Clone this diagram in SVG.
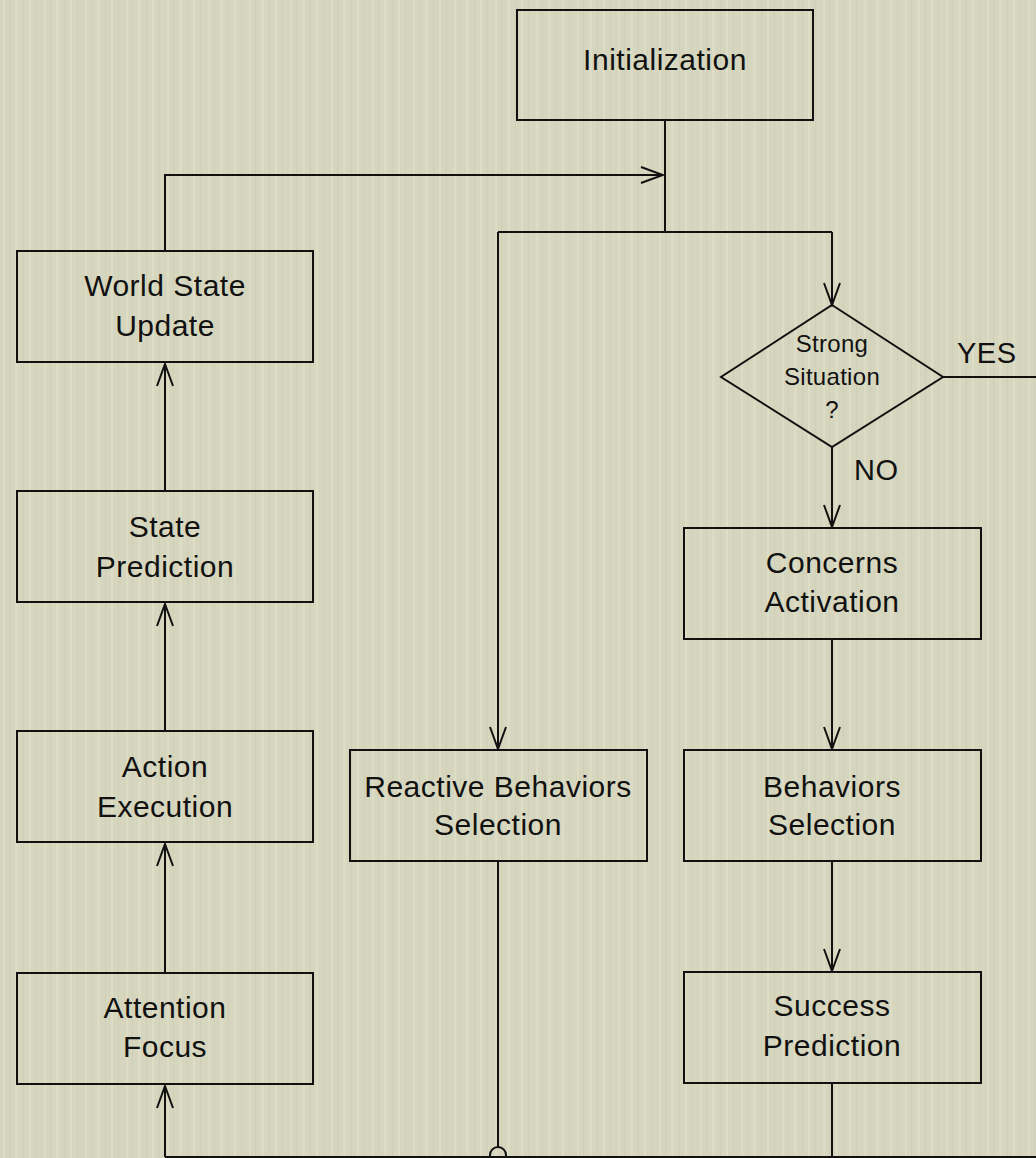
<svg xmlns="http://www.w3.org/2000/svg" width="1036" height="1158" viewBox="0 0 1036 1158">
<style>
.box{fill:none;stroke:#111;stroke-width:2}
.t{font-family:"Liberation Sans",Arial,sans-serif;font-size:30px;letter-spacing:0.5px;fill:#111;text-anchor:middle}
.ts{font-family:"Liberation Sans",Arial,sans-serif;font-size:24px;letter-spacing:0.3px;fill:#111;text-anchor:middle}
.lbl{font-family:"Liberation Sans",Arial,sans-serif;font-size:29px;letter-spacing:0.5px;fill:#111}
.c{fill:none;stroke:#111;stroke-width:2}
</style>
<defs>
<pattern id="tex" width="41" height="1158" patternUnits="userSpaceOnUse">
<rect width="41" height="1158" fill="#d6d6be"/>
<rect x="3" width="2" height="1158" fill="#e0e0c8" opacity="0.7"/>
<rect x="9" width="1" height="1158" fill="#c8c9b0" opacity="0.6"/>
<rect x="15" width="3" height="1158" fill="#dedfc7" opacity="0.6"/>
<rect x="23" width="1" height="1158" fill="#c6c7ae" opacity="0.5"/>
<rect x="29" width="2" height="1158" fill="#e2e2cb" opacity="0.6"/>
<rect x="36" width="1" height="1158" fill="#cacbb2" opacity="0.6"/>
</pattern>
<marker id="arr" viewBox="-25 -10 27 20" markerWidth="27" markerHeight="20" refX="0" refY="0" markerUnits="userSpaceOnUse" orient="auto">
<path d="M-22,-8 L0,0 L-22,8" fill="none" stroke="#111" stroke-width="2"/>
</marker>
</defs>
<rect width="1036" height="1158" fill="url(#tex)"/>

<g id="connectors">
<path class="c" d="M665,120 V232"/>
<path class="c" d="M165,251 V175 H663" marker-end="url(#arr)"/>
<path class="c" d="M498,232 H832"/>
<path class="c" d="M498,232 V749" marker-end="url(#arr)"/>
<path class="c" d="M832,232 V305" marker-end="url(#arr)"/>
<path class="c" d="M832,447 V527" marker-end="url(#arr)"/>
<path class="c" d="M943,377 H1036"/>
<path class="c" d="M832,639 V749" marker-end="url(#arr)"/>
<path class="c" d="M832,861 V971" marker-end="url(#arr)"/>
<path class="c" d="M832,1083 V1158"/>
<path class="c" d="M498,861 V1147"/>
<circle class="c" cx="498" cy="1155" r="8"/>
<path class="c" d="M1036,1157 H165"/>
<path class="c" d="M165,1157 V1086" marker-end="url(#arr)"/>
<path class="c" d="M165,973 V844" marker-end="url(#arr)"/>
<path class="c" d="M165,731 V604" marker-end="url(#arr)"/>
<path class="c" d="M165,491 V364" marker-end="url(#arr)"/>
<text class="lbl" x="957" y="363">YES</text>
<text class="lbl" x="854" y="480">NO</text>
</g>

<g id="initialization">
<rect class="box" x="517" y="10" width="296" height="110"/>
<text class="t" x="665" y="70">Initialization</text>
</g>
<g id="world-state-update">
<rect class="box" x="17" y="251" width="296" height="111"/>
<text class="t" x="165" y="296">World State</text>
<text class="t" x="165" y="336">Update</text>
</g>
<g id="state-prediction">
<rect class="box" x="17" y="491" width="296" height="111"/>
<text class="t" x="165" y="537">State</text>
<text class="t" x="165" y="577">Prediction</text>
</g>
<g id="action-execution">
<rect class="box" x="17" y="731" width="296" height="111"/>
<text class="t" x="165" y="777">Action</text>
<text class="t" x="165" y="817">Execution</text>
</g>
<g id="attention-focus">
<rect class="box" x="17" y="973" width="296" height="111"/>
<text class="t" x="165" y="1018">Attention</text>
<text class="t" x="165" y="1057">Focus</text>
</g>
<g id="strong-situation">
<polygon class="box" points="832,305 943,377 832,447 721,377"/>
<text class="ts" x="832" y="352">Strong</text>
<text class="ts" x="832" y="385">Situation</text>
<text class="ts" x="832" y="418">?</text>
</g>
<g id="concerns-activation">
<rect class="box" x="684" y="528" width="297" height="111"/>
<text class="t" x="832" y="573">Concerns</text>
<text class="t" x="832" y="612">Activation</text>
</g>
<g id="reactive-behaviors-selection">
<rect class="box" x="350" y="750" width="297" height="111"/>
<text class="t" x="498" y="797">Reactive Behaviors</text>
<text class="t" x="498" y="835">Selection</text>
</g>
<g id="behaviors-selection">
<rect class="box" x="684" y="750" width="297" height="111"/>
<text class="t" x="832" y="797">Behaviors</text>
<text class="t" x="832" y="835">Selection</text>
</g>
<g id="success-prediction">
<rect class="box" x="684" y="972" width="297" height="111"/>
<text class="t" x="832" y="1016">Success</text>
<text class="t" x="832" y="1056">Prediction</text>
</g>
</svg>
